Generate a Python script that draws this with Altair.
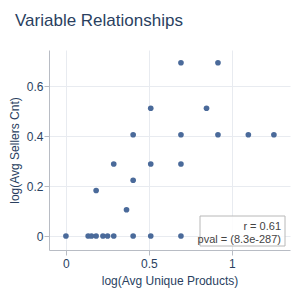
import altair as alt
import pandas as pd

x_vals = [0.0, 0.134, 0.154, 0.182, 0.223, 0.251, 0.288, 0.405, 0.511, 0.693,
          0.182, 0.365, 0.405, 0.288, 0.511, 0.693,
          0.405, 0.693, 0.916, 1.099, 1.253, 0.511, 0.847, 0.693, 0.916]
y_vals = [0.0, 0.0, 0.0, 0.0, 0.0, 0.0, 0.0, 0.0, 0.0, 0.0,
          0.182, 0.105, 0.223, 0.288, 0.288, 0.288,
          0.405, 0.405, 0.405, 0.405, 0.405, 0.511, 0.511, 0.693, 0.693]
ann_lines = ["r = 0.61", "pval = (8.3e-287)"]

df = pd.DataFrame({"x": x_vals, "y": y_vals})

font = "Liberation Sans"
col = "#2a3f5f"

xs = alt.Scale(domain=[-0.102, 1.35], nice=False, zero=False)
ys = alt.Scale(domain=[-0.056, 0.744], nice=False, zero=False)

points = alt.Chart(df).mark_circle(size=32, opacity=1, color="#4a6a9a").encode(
    x=alt.X("x:Q", scale=xs, title="log(Avg Unique Products)",
            axis=alt.Axis(values=[0, 0.5, 1], format="~g", grid=True)),
    y=alt.Y("y:Q", scale=ys, title="log(Avg Sellers Cnt)",
            axis=alt.Axis(values=[0, 0.2, 0.4, 0.6], format="~g", grid=True)),
)

box = alt.Chart(pd.DataFrame({"a": [0]})).mark_rect(
    fill="white", fillOpacity=0.85, stroke="#b8b8b8", strokeWidth=1
).encode(x=alt.value(151), x2=alt.value(236), y=alt.value(166), y2=alt.value(196))

ann = alt.Chart(pd.DataFrame({"t": ann_lines, "yy": [180, 193]})).mark_text(
    align="right", baseline="alphabetic", font=font, fontSize=11, color="#444444"
).encode(text="t:N", x=alt.value(232), y=alt.Y("yy:Q", scale=None))

chart = alt.layer(points, box, ann).properties(
    width=241, height=200,
    padding={"left": 49, "top": 50, "right": 10, "bottom": 50},
    autosize=alt.AutoSizeParams(type="none"),
    title=alt.TitleParams("Variable Relationships", anchor="start", frame="group",
                          dx=-34, offset=20, font=font, fontSize=17,
                          fontWeight="normal", color=col),
).configure_view(stroke=None).configure_axis(
    gridColor="#e8ebf0", domainColor="#b8bcc4", tickColor="#b8bcc4",
    tickSize=5, labelFont=font, labelFontSize=12, labelColor=col,
    titleFont=font, titleFontSize=12, titleFontWeight="normal", titleColor=col,
    labelPadding=3,
).configure_axisX(titlePadding=6).configure_axisY(titlePadding=5, labelPadding=1)

chart.save("out.html", embed_options={"renderer": "svg", "actions": False})
